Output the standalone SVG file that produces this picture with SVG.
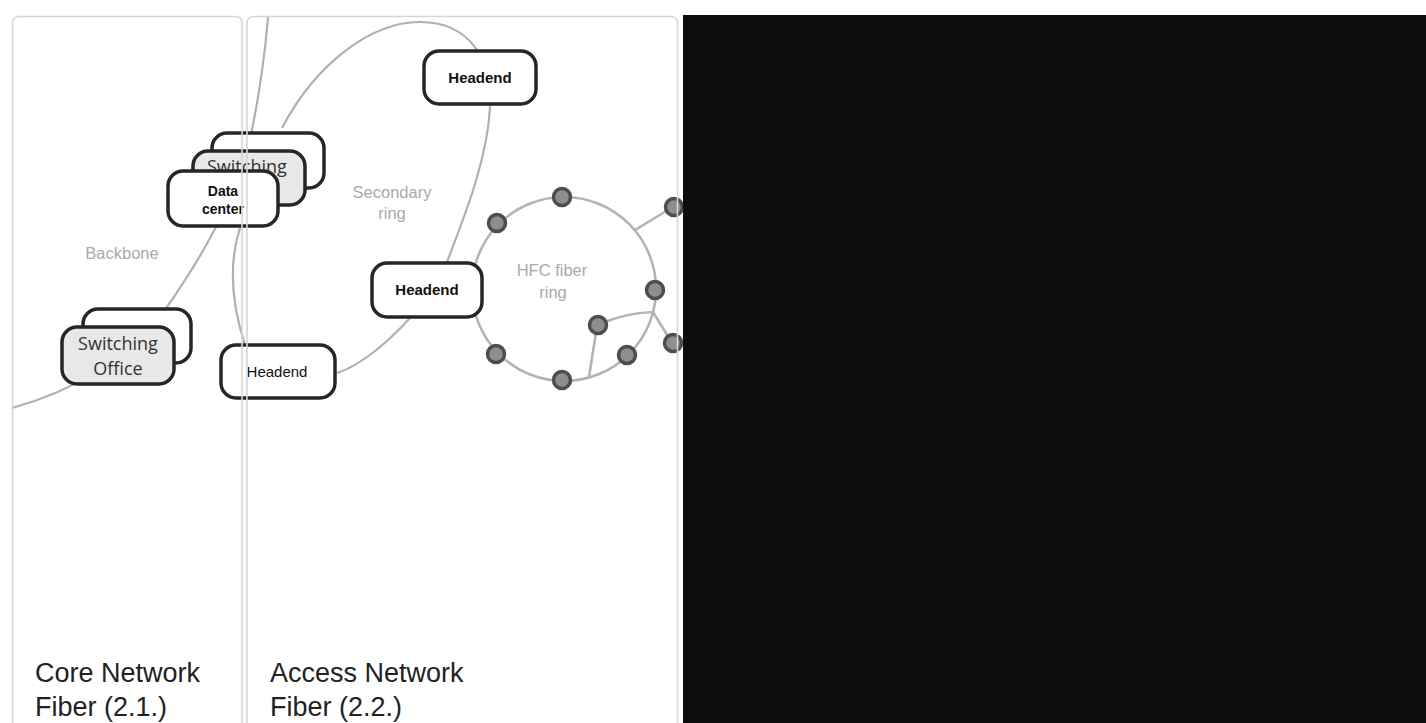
<svg xmlns="http://www.w3.org/2000/svg" width="1426" height="723" viewBox="0 0 1426 723">
<style>
.conn{fill:none;stroke:#b0b0b0;stroke-width:2.2}
.ring{fill:none;stroke:#b3b3b3;stroke-width:2.6}
.box{stroke:#262626;stroke-width:3.5}
.white{fill:#ffffff}
.grey{fill:#e8e8e8}
.dot{fill:#8e8e8e;stroke:#4d4d4d;stroke-width:3.5}
.panel{fill:none;stroke:#d6d6d6;stroke-width:1.6}
.lbl{font-family:"Liberation Sans",Arial,sans-serif;fill:#a9a9a9;font-size:16.5px;text-anchor:middle}
.node{font-family:"Liberation Sans",Arial,sans-serif;fill:#111;text-anchor:middle}
.sw{font-family:"Open Sans","Liberation Sans",sans-serif;fill:#333;font-size:18px}
.title{font-family:"Liberation Sans",Arial,sans-serif;fill:#222;font-size:27px}
</style>
<rect x="0" y="0" width="1426" height="723" fill="#ffffff"/>

<g id="connectors">
  <path class="conn" d="M12,408 C70,392 130,360 167,307 S240,190 252,130 S266,40 268,17"/>
  <path class="conn" d="M282,128 C315,65 370,22 420,22 C470,22 493,60 490,108 C487,160 465,215 447,262 C440,280 425,305 410,318 C390,340 362,365 337,373"/>
  <path class="conn" d="M245,345 C232,305 228,265 240,228"/>
  <circle class="ring" cx="564" cy="289" r="92"/>
  <path class="ring" d="M635,230 L673,207"/>
  <path class="ring" d="M653,312 L672,343"/>
  <path class="ring" d="M653,312 Q625,313 600,324"/>
  <path class="ring" d="M597,326 L589,377"/>
</g>

<g id="ring-nodes">
  <circle class="dot" cx="562" cy="197" r="8.5"/>
  <circle class="dot" cx="497" cy="223" r="8.5"/>
  <circle class="dot" cx="655" cy="290" r="8.5"/>
  <circle class="dot" cx="496" cy="354" r="8.5"/>
  <circle class="dot" cx="562" cy="380" r="8.5"/>
  <circle class="dot" cx="627" cy="355" r="8.5"/>
  <circle class="dot" cx="598" cy="325" r="8.5"/>
  <circle class="dot" cx="674" cy="207" r="8.5"/>
  <circle class="dot" cx="673" cy="343" r="8.5"/>
</g>

<g id="headend-top">
  <rect class="box white" x="424" y="51" width="112" height="53" rx="15"/>
  <text class="node" x="480" y="83" font-size="15" font-weight="bold">Headend</text>
</g>
<g id="headend-middle">
  <rect class="box white" x="372" y="263" width="110" height="54" rx="15"/>
  <text class="node" x="427" y="295" font-size="15" font-weight="bold">Headend</text>
</g>
<g id="headend-bottom">
  <rect class="box white" x="221" y="345" width="114" height="53" rx="15"/>
  <text class="node" x="277" y="377" font-size="15">Headend</text>
</g>

<g id="data-center-stack">
  <rect class="box white" x="212" y="133" width="112" height="55" rx="15"/>
  <rect class="box grey" x="193" y="151" width="112" height="54" rx="15"/>
  <text class="sw" x="207" y="173">Switching</text>
  <rect class="box white" x="168" y="171" width="110" height="55" rx="15"/>
  <text class="node" x="223" y="196" font-size="14" font-weight="bold">Data</text>
  <text class="node" x="223" y="214" font-size="14" font-weight="bold">center</text>
</g>

<g id="switching-office">
  <rect class="box white" x="83" y="309" width="108" height="54" rx="15"/>
  <rect class="box grey" x="62" y="327" width="112" height="57" rx="15"/>
  <text class="sw" x="118" y="350" text-anchor="middle">Switching</text>
  <text class="sw" x="118" y="375" text-anchor="middle">Office</text>
</g>

<g id="labels">
  <text class="lbl" x="122" y="259">Backbone</text>
  <text class="lbl" x="392" y="198">Secondary</text>
  <text class="lbl" x="392" y="219">ring</text>
  <text class="lbl" x="552" y="276">HFC fiber</text>
  <text class="lbl" x="553" y="298">ring</text>
</g>

<g id="panels">
  <rect class="panel" x="12.5" y="16.5" width="229.5" height="740" rx="6"/>
  <rect class="panel" x="247" y="16.5" width="430.5" height="740" rx="6"/>
</g>

<rect id="dark-panel" x="683" y="15" width="743" height="708" fill="#0d0d0d"/>

<g id="titles">
  <text class="title" x="35" y="682">Core Network</text>
  <text class="title" x="35" y="716">Fiber (2.1.)</text>
  <text class="title" x="270" y="682">Access Network</text>
  <text class="title" x="270" y="716">Fiber (2.2.)</text>
</g>
</svg>
